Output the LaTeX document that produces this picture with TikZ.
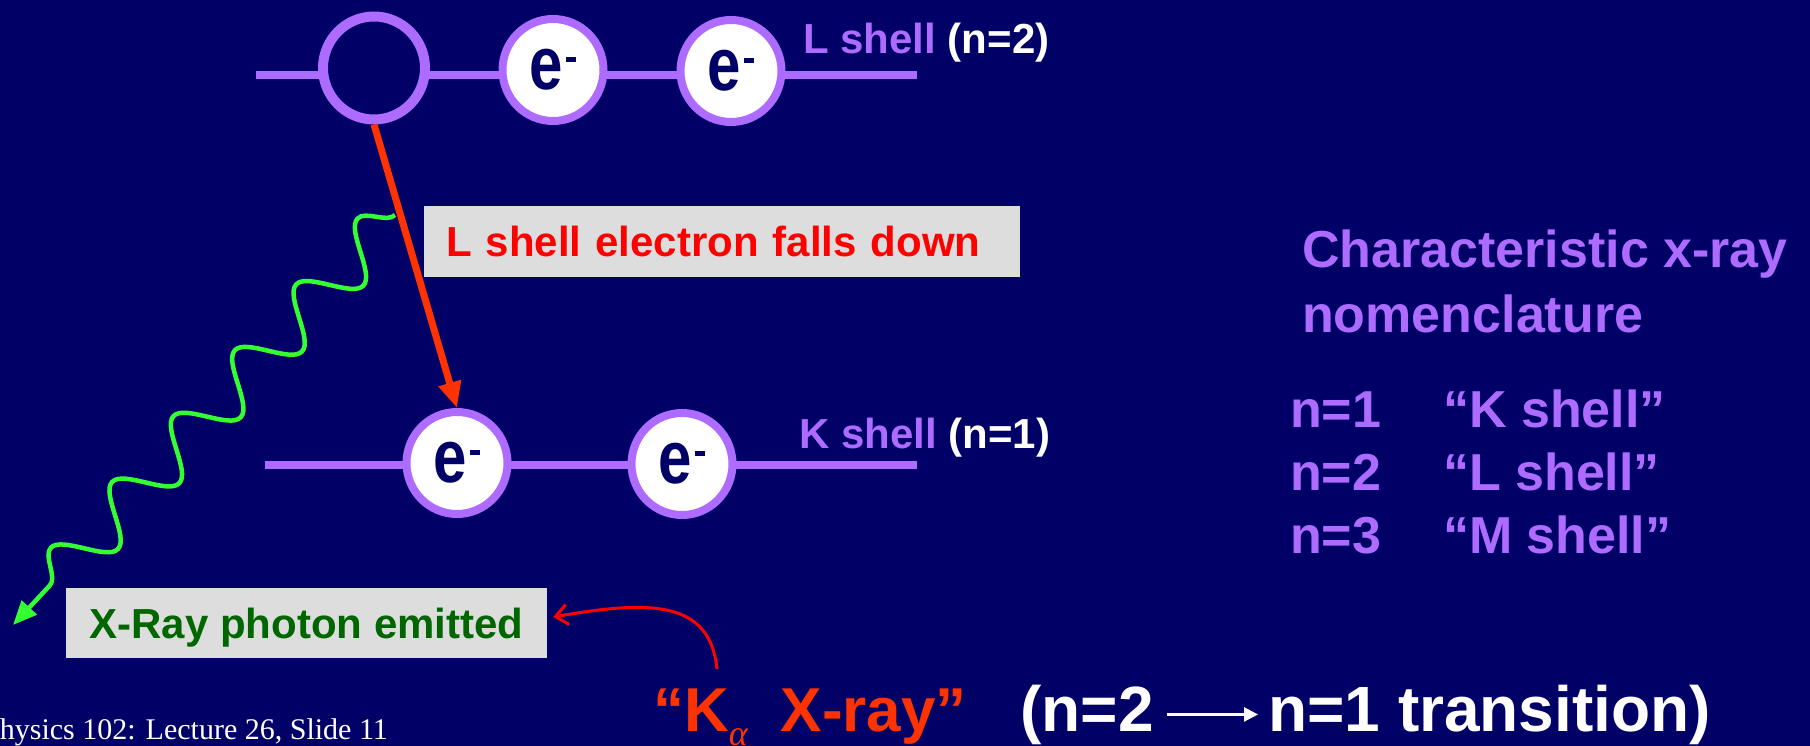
\documentclass[tikz,border=0pt]{standalone}
\usepackage{graphicx}
\usepackage{fontspec}
\setmainfont{Liberation Sans}
\newfontfamily\timesfont{Liberation Serif}
\usetikzlibrary{shapes.geometric,arrows.meta,decorations.pathmorphing,calc}
\definecolor{bg}{RGB}{0,0,102}
\definecolor{shellpurple}{RGB}{173,107,255}
\definecolor{redorange}{RGB}{255,51,0}
\definecolor{boxgray}{RGB}{221,221,221}
\definecolor{darkgreen}{RGB}{0,102,0}
\definecolor{limegreen}{RGB}{51,255,51}
\newcommand{\fsz}[1]{\fontsize{#1}{#1}\selectfont}
\newcommand{\elec}{\scalebox{1}[1.25]{e}\hspace{3pt}\raisebox{28pt}{\rule{10pt}{4.5pt}}}
\begin{document}
\begin{tikzpicture}[x=1pt,y=-1pt,
  shell/.style={shellpurple, line width=8pt},
  electron/.style={ellipse, draw=shellpurple, line width=8pt, fill=white,
    minimum width=101pt, minimum height=102pt, inner sep=0pt, text=bg,
    font=\bfseries\fsz{60}},
  holestyle/.style={ellipse, draw=shellpurple, line width=10pt, fill=bg,
    minimum width=102pt, minimum height=103pt, inner sep=0pt},
  lbl/.style={anchor=base west, inner sep=0pt, text=shellpurple, font=\bfseries\fsz{42}},
  nomen/.style={anchor=base west, inner sep=0pt, text=shellpurple, font=\bfseries\fsz{52}},
  graybox/.style={fill=boxgray, inner sep=0pt, font=\bfseries\fsz{42},
    text height=30pt, text depth=0pt},
  fall/.style={redorange, line width=7pt, -{Triangle[length=26pt,width=22pt]}},
  photon/.style={limegreen, line width=4.5pt, decorate,
    decoration={snake, mirror, segment length=90pt, amplitude=25pt, post length=18pt},
    -{Triangle[length=24pt,width=20pt]}},
  pointer/.style={red, line width=3pt, -{Straight Barb[length=12pt,width=20pt]}},
  bigtext/.style={anchor=base west, inner sep=0pt, font=\bfseries\fsz{64}}
]
\useasboundingbox (0,0) rectangle (1810,746);
\fill[bg] (0,0) rectangle (1810,746);

% shells
\coordinate (Lstart) at (256,75);
\coordinate (Lend) at (917,75);
\coordinate (Kstart) at (265,465);
\coordinate (Kend) at (917,465);
\draw[shell] (Lstart) -- (Lend);
\draw[shell] (Kstart) -- (Kend);

\node[holestyle] (h) at (374,68) {};
\node[electron] (l1) at (553,70) {\elec};
\node[electron] (l2) at (731,71) {\elec};
\node[electron] (k1) at (457,463) {\elec};
\node[electron] (k2) at (682,464) {\elec};

\node[lbl] (Llab) at (803,54) {L shell \textcolor{white}{(n=2)}};
\node[lbl] (Klab) at (799,448) {K shell \textcolor{white}{(n=1)}};

% falling electron
\draw[fall] (h.south) -- (k1.north);

% photon
\coordinate (ws) at (395,215);
\coordinate (we) at (13,625);
\draw[photon] (ws) -- (we);

% boxes
\node[graybox, text=red, minimum width=596pt, minimum height=71pt,
  text width=552pt, inner xsep=22pt, align=left] (fallbox) at (722,241.5)
  {L shell electron falls down};
\node[graybox, text=darkgreen, minimum width=481pt, minimum height=70pt]
  (xbox) at (306.5,623) {X-Ray photon emitted};

% nomenclature
\node[nomen] (c1) at (1302,268) {Characteristic x-ray};
\node[nomen] (c2) at (1302,332) {nomenclature};
\node[nomen] (n1a) at (1290,427) {n=1};
\node[nomen] (n1b) at (1443,427) {“K shell”};
\node[nomen] (n2a) at (1290,490) {n=2};
\node[nomen] (n2b) at (1443,490) {“L shell”};
\node[nomen] (n3a) at (1290,553) {n=3};
\node[nomen] (n3b) at (1443,553) {“M shell”};

% bottom line
\node[anchor=base west, inner sep=0pt, text=redorange, font=\bfseries\fsz{62}]
  (ka) at (653,731)
  {“K\raisebox{-14pt}{\timesfont\itshape\mdseries\fsz{36}α}\hspace{33pt}X-ray”};
\node[bigtext, text=white] (tn2) at (1020,731) {(n=2};
\node[bigtext, text=white] (tn1) at (1268,731) {n=1 transition)};
\draw[white, line width=2.5pt, -{Triangle[length=14pt,width=14pt]},
  shorten <=13pt, shorten >=10pt] (tn2.east) -- (tn1.west);

% pointer from K-alpha to photon box
\coordinate (cs) at (717,669);
\draw[pointer] (cs) .. controls (710,600) and (650,600) .. ([xshift=6pt,yshift=6pt]xbox.east);

% footer
\node[anchor=base west, inner sep=0pt, text=white, font=\timesfont\fsz{30}]
  (foot) at (-17,739) {Physics 102: Lecture 26, Slide 11};
\end{tikzpicture}
\end{document}
